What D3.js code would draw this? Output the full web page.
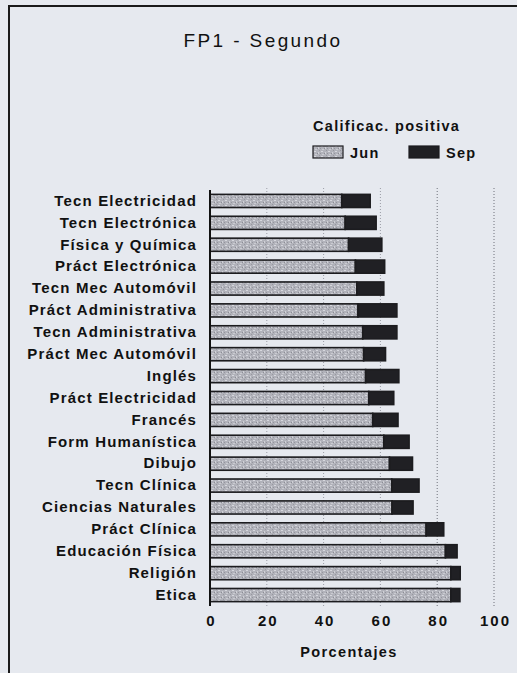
<!DOCTYPE html>
<html>
<head>
<meta charset="utf-8">
<script src="https://cdn.jsdelivr.net/npm/d3@7"></script>
<style>
  body { margin: 0; background: #e6e9ef; }
  svg { display: block; font-family: "Liberation Sans", Arial, sans-serif; }
</style>
</head>
<body>
<script>
'use strict';

// subjects, top to bottom
const subjects = ["Tecn Electricidad", "Tecn Electrónica", "Física y Química", "Práct Electrónica",
  "Tecn Mec Automóvil", "Práct Administrativa", "Tecn Administrativa", "Práct Mec Automóvil",
  "Inglés", "Práct Electricidad", "Francés", "Form Humanística", "Dibujo", "Tecn Clínica",
  "Ciencias Naturales", "Práct Clínica", "Educación Física", "Religión", "Etica"];

// % positive grade in June
const junValues = [46.4, 47.6, 48.8, 51.2, 51.7, 52.1, 53.8, 54.1, 54.8, 55.9,
  57.3, 61.2, 63.2, 64.0, 64.1, 76.1, 82.9, 84.8, 84.8];
// % added in September
const sepValues = [10.0, 10.9, 11.7, 10.3, 9.5, 13.7, 12.0, 7.7, 11.7, 8.8,
  8.9, 8.9, 8.1, 9.6, 7.4, 6.2, 4.1, 3.3, 3.2];

const xTicks = [0, 20, 40, 60, 80, 100];

const width = 517, height = 673;
const svg = d3.select('body').append('svg')
  .attr('width', width)
  .attr('height', height);

// speckled gray texture for June bars
const defs = svg.append('defs');
const pat = defs.append('pattern')
  .attr('id', 'speckle')
  .attr('patternUnits', 'userSpaceOnUse')
  .attr('width', 7).attr('height', 5);
pat.append('rect').attr('width', 7).attr('height', 5).attr('fill', '#b1b2ba');
pat.append('rect').attr('x', 1).attr('y', 0).attr('width', 2).attr('height', 1).attr('fill', '#d6d7dd');
pat.append('rect').attr('x', 5).attr('y', 1).attr('width', 1).attr('height', 2).attr('fill', '#cfd0d6');
pat.append('rect').attr('x', 4).attr('y', 2).attr('width', 1).attr('height', 1).attr('fill', '#8c8d95');
pat.append('rect').attr('x', 2).attr('y', 3).attr('width', 2).attr('height', 1).attr('fill', '#cacbd1');
pat.append('rect').attr('x', 0).attr('y', 2).attr('width', 1).attr('height', 1).attr('fill', '#94959d');
pat.append('rect').attr('x', 6).attr('y', 4).attr('width', 1).attr('height', 1).attr('fill', '#97989f');

// frame of the page figure
svg.append('rect')
  .attr('x', 9).attr('y', 6)
  .attr('width', 530).attr('height', 700)
  .attr('fill', 'none')
  .attr('stroke', '#1a1a1a')
  .attr('stroke-width', 2);

const x = d3.scaleLinear()
  .domain([0, 100])
  .range([210, 494]);

const y = d3.scaleBand()
  .domain(subjects)
  .range([190, 606])
  .paddingInner(0.4)
  .paddingOuter(0.2);

// dotted grid lines
svg.append('g')
  .selectAll('line')
  .data(xTicks.slice(1))
  .enter()
  .append('line')
    .attr('x1', (d) => x(d))
    .attr('x2', (d) => x(d))
    .attr('y1', 188)
    .attr('y2', 606)
    .attr('stroke', (d) => d >= 80 ? '#6f717a' : '#9a9ca5')
    .attr('stroke-width', 1)
    .attr('stroke-dasharray', '1,2');

// June bars
svg.append('g')
  .selectAll('rect')
  .data(subjects)
  .enter()
  .append('rect')
    .attr('x', x(0))
    .attr('y', (d) => y(d))
    .attr('width', (d, i) => x(junValues[i]) - x(0))
    .attr('height', y.bandwidth())
    .attr('fill', 'url(#speckle)')
    .attr('stroke', '#1c1c1f')
    .attr('stroke-width', 1.6);

// September bars, stacked after June
svg.append('g')
  .selectAll('rect')
  .data(subjects)
  .enter()
  .append('rect')
    .attr('x', (d, i) => x(junValues[i]))
    .attr('y', (d) => y(d))
    .attr('width', (d, i) => x(junValues[i] + sepValues[i]) - x(junValues[i]))
    .attr('height', y.bandwidth())
    .attr('fill', '#202024')
    .attr('stroke', '#1c1c1f')
    .attr('stroke-width', 1.6);

// y axis: category labels and left line
const yAxis = d3.axisLeft(y).tickSize(0).tickPadding(13);
const gy = svg.append('g')
  .attr('transform', 'translate(' + x(0) + ',0)')
  .call(yAxis);
gy.select('.domain').remove();
gy.selectAll('text')
  .attr('font-family', '"Liberation Sans", Arial, sans-serif')
  .style('font-size', '15px')
  .style('font-weight', 'bold')
  .style('letter-spacing', '1.15px')
  .attr('fill', '#111');

svg.append('line')
  .attr('x1', x(0)).attr('x2', x(0))
  .attr('y1', 190).attr('y2', 606)
  .attr('stroke', '#111')
  .attr('stroke-width', 2);

// x axis: tick labels only
const xAxis = d3.axisBottom(x).tickValues(xTicks).tickSize(0).tickPadding(9);
const gx = svg.append('g')
  .attr('transform', 'translate(0,606)')
  .call(xAxis);
gx.select('.domain').remove();
gx.selectAll('text')
  .attr('font-family', '"Liberation Sans", Arial, sans-serif')
  .attr('dx', '1px')
  .style('font-size', '15px')
  .style('font-weight', 'bold')
  .style('letter-spacing', '2px')
  .attr('fill', '#111');

// title and labels
svg.append('text')
  .attr('x', 263)
  .attr('y', 47)
  .attr('text-anchor', 'middle')
  .style('font-size', '19px')
  .style('letter-spacing', '2.4px')
  .attr('fill', '#111')
  .text('FP1 - Segundo');

svg.append('text')
  .attr('x', 349)
  .attr('y', 657)
  .attr('text-anchor', 'middle')
  .style('font-size', '14.5px')
  .style('font-weight', 'bold')
  .style('letter-spacing', '1.4px')
  .attr('fill', '#111')
  .text('Porcentajes');

// legend
svg.append('text')
  .attr('x', 313)
  .attr('y', 131)
  .style('font-size', '14.5px')
  .style('font-weight', 'bold')
  .style('letter-spacing', '1.3px')
  .attr('fill', '#111')
  .text('Calificac. positiva');

const legend = [
  {name: 'Jun', fill: 'url(#speckle)', x: 313},
  {name: 'Sep', fill: '#202024', x: 409}
];
const lg = svg.append('g')
  .selectAll('g')
  .data(legend)
  .enter()
  .append('g')
  .attr('transform', (d) => 'translate(' + d.x + ',146)');
lg.append('rect')
  .attr('width', 30).attr('height', 12)
  .attr('fill', (d) => d.fill)
  .attr('stroke', '#1c1c1f')
  .attr('stroke-width', 1.2);
lg.append('text')
  .attr('x', 37)
  .attr('y', 12)
  .style('font-size', '14.5px')
  .style('font-weight', 'bold')
  .style('letter-spacing', '1.3px')
  .attr('fill', '#111')
  .text((d) => d.name);
</script>
</body>
</html>
